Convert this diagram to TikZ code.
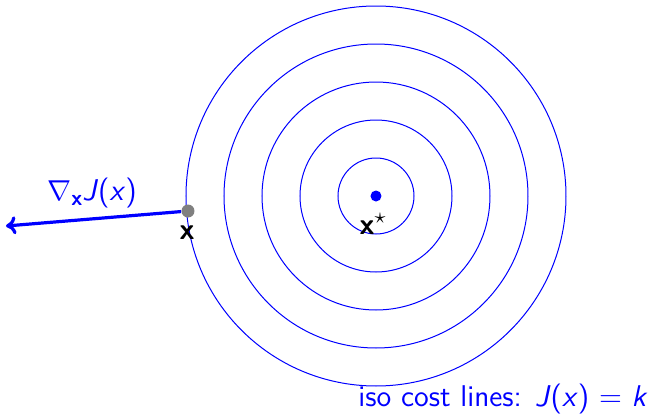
\documentclass[tikz,border=0pt]{standalone}
\usepackage{fontspec}
\usetikzlibrary{arrows.meta}
\renewcommand{\familydefault}{\sfdefault}
\begin{document}
\begin{tikzpicture}[x=0.5pt,y=0.5pt,
  iso/.style={draw=blue, line width=0.5pt},
  lbl/.style={font=\sffamily\fontsize{15}{18}\selectfont, inner sep=0pt},
  grad/.style={draw=blue, line width=1.6pt, -{To[length=5pt,width=9pt]}}]
\useasboundingbox (0,0) rectangle (650,414);
\coordinate (c) at (376,218);
\foreach \r in {38,76,114,152,190} {
  \draw[iso] (c) circle[radius=\r];
}
\fill[blue] (c) circle[radius=5.5];
\node[lbl] (xs) at (373,190) {\textbf{x}$^\star$};
\node[circle, fill=gray, inner sep=0pt, minimum size=6.5pt] (p) at (188,203) {};
\coordinate (e) at (6,188);
\draw[grad] (p) -- (e);
\node[lbl, text=blue] (g) at (92,221) {$\nabla$\raisebox{-0.4ex}{\fontsize{11}{13}\selectfont\textbf{x}}\textit{J}(\textit{x})};
\node[lbl] (xl) at (187,181) {\textbf{x}};
\node[lbl, text=blue, anchor=east] (iso) at (648,15) {iso cost lines: \textit{J}(\textit{x}) = \textit{k}};
\end{tikzpicture}
\end{document}
